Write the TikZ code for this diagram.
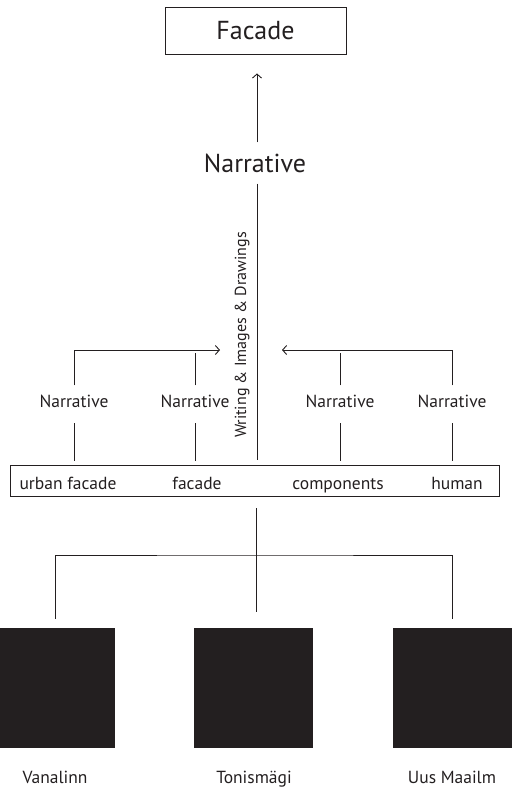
\documentclass[tikz,border=0pt]{standalone}
\usepackage{fontspec}
\setmainfont{PT Sans}
\usetikzlibrary{arrows.meta}
\definecolor{inkdark}{HTML}{231F20}

\begin{document}
\begin{tikzpicture}[x=1pt, y=-1pt,
    wire/.style={draw=inkdark, line width=0.9pt},
    barb/.style={wire, -{Straight Barb[length=4pt, width=9pt]}},
    tag/.style={font=\fontsize{17.5}{20}\selectfont, text=inkdark, inner sep=0pt, anchor=base},
    big/.style={font=\fontsize{26}{30}\selectfont, text=inkdark, inner sep=0pt},
    site/.style={fill=inkdark, inner sep=0pt, minimum width=119pt, minimum height=120pt},
  ]
  \useasboundingbox (0,0) rectangle (513,787);

  % ---- top: facade and the main narrative
  \node[wire, big, minimum width=181pt, minimum height=47pt] (facade) at (255.5,30.5) {Facade};
  \node[big, anchor=base] (story) at (255,172) {Narrative};
  \draw[barb, shorten <=11pt, shorten >=19pt] (story.north -| 257,0) -- (facade.south -| 257,0);

  % ---- the bar of themes
  \node[wire, minimum width=489pt, minimum height=31pt, inner sep=0pt] (bar) at (254.5,480.5) {};
  \node[tag] (urban) at (68,489) {urban facade};
  \node[tag] (front) at (197,489) {facade};
  \node[tag] (parts) at (338,489) {components};
  \node[tag] (human) at (457,489) {human};

  \draw[wire, shorten <=11pt, shorten >=5pt] (story.south -| 257,0) -- (bar.north -| 257,0);
  \node[tag, anchor=center, font=\fontsize{16}{18}\selectfont, rotate=90] (media) at (242,335) {Writing \& Images \& Drawings};

  % ---- narratives rising from the bar
  \foreach \x/\n in {74/na, 195/nb, 340/nc, 452/nd}{
    \node[tag] (\n) at (\x,407) {Narrative};
    \draw[wire, shorten <=16pt, shorten >=4pt] (\n.south) -- (\n.south |- bar.north);
  }
  \coordinate (lefttip) at (220,350);
  \coordinate (righttip) at (282,350);
  \draw[barb, shorten <=9pt] (na.north) |- (lefttip);
  \draw[barb, shorten <=9pt] (nd.north) |- (righttip);
  \draw[wire, shorten <=9pt, shorten >=3pt] (nb.north) -- (nb.north |- lefttip);
  \draw[wire, shorten <=9pt, shorten >=3pt] (nc.north) -- (nc.north |- righttip);

  % ---- the three sites
  \node[site] (vana) at (55.5,688) {};
  \node[site] (tonis) at (253.5,688) {};
  \node[site] (uus) at (452.5,688) {};
  \coordinate (fork) at (256,555);
  \draw[wire, shorten <=12pt, shorten >=16pt] (bar.south -| fork) -- (fork |- tonis.north);
  \draw[wire, shorten <=9pt, shorten >=9pt] (vana.north) |- (fork) -| (uus.north);

  \node[tag] (vanalbl) at (55,783) {Vanalinn};
  \node[tag] (tonislbl) at (254,783) {Tonismägi};
  \node[tag] (uuslbl) at (452,783) {Uus Maailm};
\end{tikzpicture}
\end{document}
